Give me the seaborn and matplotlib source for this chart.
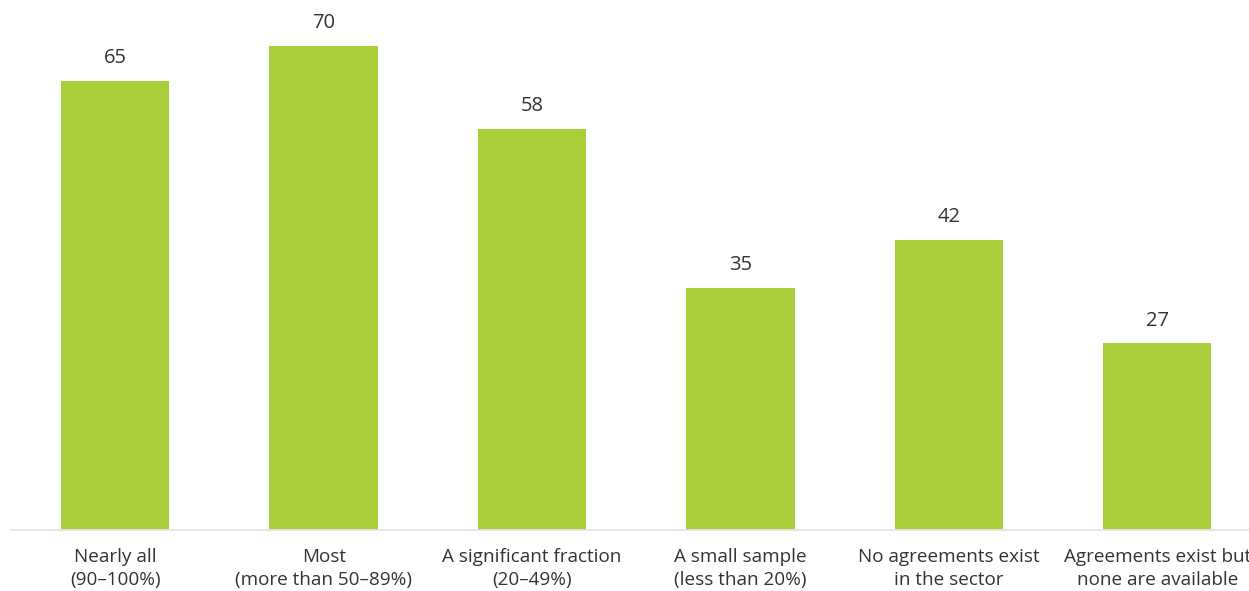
import matplotlib
matplotlib.use("Agg")
import matplotlib.pyplot as plt
import seaborn as sns
import pandas as pd

categories = [
    "Nearly all\n(90–100%)",
    "Most\n(more than 50–89%)",
    "A significant fraction\n(20–49%)",
    "A small sample\n(less than 20%)",
    "No agreements exist\nin the sector",
    "Agreements exist but\nnone are available",
]
values = [65, 70, 58, 35, 42, 27]

bar_color = "#a8cf3a"
text_color = "#333333"

sns.set_theme(style="white")
plt.rcParams["font.family"] = ["Open Sans", "DejaVu Sans"]

df = pd.DataFrame({"category": categories, "value": values})

fig = plt.figure(figsize=(12.49, 5.91), dpi=100)
ax = fig.add_axes([11 / 1249, 61 / 591, 1 - 11 / 1249, 530 / 591])

sns.barplot(data=df, x="category", y="value", color=bar_color,
            width=0.52, saturation=1, linewidth=0, ax=ax)

ax.bar_label(ax.containers[0], labels=[str(v) for v in values],
             padding=9, fontsize=14.5, color=text_color)

ax.set_xlim(-0.5, 5.44)
ax.set_ylim(0, 76.65)
ax.set_xlabel("")
ax.set_ylabel("")
ax.set_yticks([])
ax.tick_params(axis="x", length=0, pad=13, labelsize=13.6, labelcolor=text_color)
for lbl in ax.get_xticklabels():
    lbl.set_linespacing(1.35)

for side in ["top", "right", "left"]:
    ax.spines[side].set_visible(False)
ax.spines["bottom"].set_color("#e3e3e3")
ax.spines["bottom"].set_linewidth(1.2)

fig.savefig("out.png", dpi=100)
